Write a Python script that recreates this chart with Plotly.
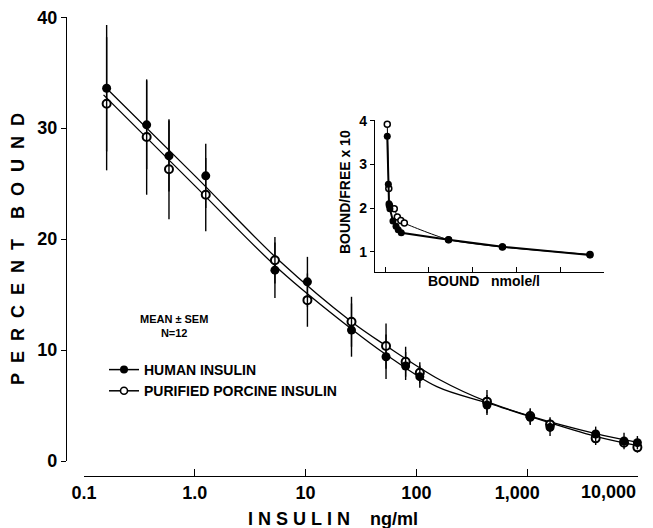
import plotly.graph_objects as go

# ---------------- data ----------------
insulin_ng_ml = [0.16, 0.367, 0.583, 1.25, 5.25, 10.3, 25.7, 52.6, 79, 106,
                 427, 1047, 1580, 4070, 7330, 9670]
human_pct = [33.6, 30.3, 27.5, 25.7, 17.2, 16.15, 11.8, 9.4, 8.56, 7.6,
             5.05, 3.94, 3.03, 2.43, 1.8, 1.65]
human_sem = [5.7, 4.0, 3.2, 2.9, 2.5, 2.25, 2.4, 2.0, 1.26, 1.0,
             0.9, 0.7, 0.78, 0.67, 0.75, 0.6]
porcine_pct = [32.2, 29.2, 26.3, 24.0, 18.1, 14.5, 12.55, 10.36, 8.95, 7.95,
               5.35, 4.05, 3.3, 2.04, 1.65, 1.23]
porcine_sem = [6.0, 5.2, 4.5, 3.3, 2.1, 2.4, 2.25, 2.04, 1.35, 0.95,
               1.05, 0.7, 0.64, 0.6, 0.36, 0.48]

# fitted curves
curve_a_x = [0.152, 1.0, 5.83, 25.7, 52.5, 162, 427, 1047, 3981, 9550]
curve_a_y = [33.8, 25.7, 18.0, 12.55, 10.4, 7.3, 5.35, 4.05, 2.5, 1.7]
curve_b_x = [0.150, 1.0, 5.83, 25.7, 52.5, 151, 427, 1047, 3981, 9550]
curve_b_y = [33.0, 24.8, 17.2, 11.9, 9.6, 6.7, 5.25, 4.0, 2.25, 1.4]

# inset: Scatchard plot (bound vs bound/free x 10)
inset_h_bound = [1.05, 1.075, 1.09, 1.11, 1.18, 1.25, 1.30, 1.37, 2.45, 3.68, 5.68]
inset_h_bf = [3.65, 2.55, 2.1, 1.99, 1.71, 1.59, 1.51, 1.44, 1.28, 1.12, 0.93]
inset_p_bound = [1.05, 1.085, 1.10, 1.21, 1.28, 1.36, 1.44, 2.45, 3.68, 5.68]
inset_p_bf = [3.92, 2.45, 2.06, 1.99, 1.80, 1.72, 1.66, 1.28, 1.11, 0.94]

x_tickvals = [0.1, 1, 10, 100, 1000, 10000]
x_ticktext = ["0.1", "1.0", "10", "100", "1,000" + "\u00a0" * 4, ""]
last_x_label = "10,000"   # drawn right-aligned at its tick, as in the original
y_tickvals = [0, 10, 20, 30, 40]
inset_y_tickvals = [1, 2, 3, 4]
inset_x_tickvals = [1, 2, 3, 4, 5, 6]

FONT = "Liberation Sans"
BLACK = "black"

fig = go.Figure()

# fitted curves
for cx, cy in ((curve_a_x, curve_a_y), (curve_b_x, curve_b_y)):
    fig.add_trace(go.Scatter(x=cx, y=cy, mode="lines",
                             line=dict(color=BLACK, width=1.3, shape="spline", smoothing=1.0),
                             showlegend=False, hoverinfo="skip", xaxis="x", yaxis="y"))

# porcine (open)
fig.add_trace(go.Scatter(x=insulin_ng_ml, y=porcine_pct, mode="markers",
                         marker=dict(symbol="circle", size=8, color="white",
                                     line=dict(color=BLACK, width=2)),
                         error_y=dict(type="data", array=porcine_sem, visible=True,
                                      width=0, thickness=1.4, color=BLACK),
                         showlegend=False, xaxis="x", yaxis="y"))
# human (filled)
fig.add_trace(go.Scatter(x=insulin_ng_ml, y=human_pct, mode="markers",
                         marker=dict(symbol="circle", size=9, color=BLACK),
                         error_y=dict(type="data", array=human_sem, visible=True,
                                      width=0, thickness=1.4, color=BLACK),
                         showlegend=False, xaxis="x", yaxis="y"))

# legend-only entries
fig.add_trace(go.Scatter(x=[None], y=[None], mode="lines+markers", name="HUMAN INSULIN",
                         marker=dict(symbol="circle", size=8, color=BLACK),
                         line=dict(color=BLACK, width=1.5), xaxis="x", yaxis="y"))
fig.add_trace(go.Scatter(x=[None], y=[None], mode="lines+markers",
                         name="PURIFIED PORCINE INSULIN",
                         marker=dict(symbol="circle", size=7, color="white",
                                     line=dict(color=BLACK, width=1.6)),
                         line=dict(color=BLACK, width=1.5), xaxis="x", yaxis="y"))

# empty trace so the detached tick axis (x2 on y4) is drawn
fig.add_trace(go.Scatter(x=[1], y=[None], mode="markers", showlegend=False,
                         hoverinfo="skip", xaxis="x2", yaxis="y4"))

# inset
fig.add_trace(go.Scatter(x=inset_p_bound, y=inset_p_bf, mode="lines+markers",
                         line=dict(color=BLACK, width=1, shape="spline", smoothing=0.6),
                         marker=dict(symbol="circle", size=6, color="white",
                                     line=dict(color=BLACK, width=1.5)),
                         showlegend=False, xaxis="x3", yaxis="y3"))
fig.add_trace(go.Scatter(x=inset_h_bound, y=inset_h_bf, mode="lines+markers",
                         line=dict(color=BLACK, width=2),
                         marker=dict(symbol="circle", size=7, color=BLACK),
                         showlegend=False, xaxis="x3", yaxis="y3"))

# page body adds an 8px offset; figure is laid out in screen coordinates minus that
OFF = 8
W, H = 653 - OFF, 528 - OFF
L, R, T, B = 67 - OFF, 8, 17 - OFF, 52
PW = W - L - R
PH = H - T - B


def px(xs):
    return (xs - OFF - L) / PW


def py(ys):
    return (H - B - (ys - OFF)) / PH


tickfont = dict(family=FONT, size=18, color=BLACK, weight="bold")

fig.update_layout(
    width=W, height=H,
    margin=dict(l=L, r=R, t=T, b=B, autoexpand=False),
    paper_bgcolor="white", plot_bgcolor="rgba(0,0,0,0)",
    font=dict(family=FONT, color=BLACK),
    xaxis=dict(type="log", range=[-1.153, 4.054], visible=False, anchor="y",
               domain=[0, 1], automargin=False),
    xaxis2=dict(type="log", range=[-1.0005, 4.0005], domain=[px(84), px(638)],
                anchor="y4", automargin=False, ticklabeloverflow="allow",
                showline=True, linecolor=BLACK, linewidth=1.3,
                ticks="inside", ticklen=7, tickwidth=1.3, tickcolor=BLACK,
                tickvals=x_tickvals, ticktext=x_ticktext, tickfont=tickfont,
                showgrid=False, zeroline=False),
    yaxis4=dict(domain=[0, py(462)], anchor="x2", visible=False, range=[0, 1],
                automargin=False),
    yaxis=dict(range=[0, 40.02], domain=[py(461), py(17)], anchor="x", automargin=False,
               ticklabeloverflow="allow",
               showline=True, linecolor=BLACK, linewidth=1.3,
               ticks="outside", ticklen=5, tickwidth=1.3, tickcolor=BLACK,
               tickvals=y_tickvals, tickfont=tickfont,
               showgrid=False, zeroline=False),
    xaxis3=dict(range=[0.77, 6.0], domain=[px(375), px(604)], anchor="y3",
                automargin=False,
                showline=True, linecolor=BLACK, linewidth=1.2,
                ticks="inside", ticklen=5, tickwidth=1.2, tickcolor=BLACK,
                tickvals=inset_x_tickvals, showticklabels=False,
                showgrid=False, zeroline=False),
    yaxis3=dict(range=[0.54, 4.02], domain=[py(272), py(120)], anchor="x3",
                automargin=False,
                showline=True, linecolor=BLACK, linewidth=1.2,
                ticks="outside", ticklen=4, tickwidth=1.2, tickcolor=BLACK,
                tickvals=inset_y_tickvals,
                tickfont=dict(family=FONT, size=14, color=BLACK, weight="bold"),
                showgrid=False, zeroline=False),
    legend=dict(x=px(104), y=py(354), xanchor="left", yanchor="top",
                bgcolor="rgba(0,0,0,0)", borderwidth=0,
                font=dict(family=FONT, size=14, color=BLACK, weight="bold"),
                itemwidth=30, tracegroupgap=0),
    showlegend=True,
)

nb = "\u00a0"
ytitle = (nb * 2).join("PERCENT") + nb * 4 + (nb * 2).join("BOUND")
xtitle = nb.join("INSULIN") + nb * 4 + "ng/ml"

fig.add_annotation(text=last_x_label, x=4, xref="x2", y=py(492), yref="paper",
                   showarrow=False, xanchor="right", yanchor="middle",
                   font=tickfont)
fig.add_annotation(text=ytitle, x=px(18), y=py(249), xref="paper", yref="paper",
                   textangle=-90, showarrow=False, xanchor="center", yanchor="middle",
                   font=dict(family=FONT, size=18, color=BLACK, weight="bold"))
fig.add_annotation(text=xtitle, x=px(333), y=py(519), xref="paper", yref="paper",
                   showarrow=False, xanchor="center", yanchor="middle",
                   font=dict(family=FONT, size=18, color=BLACK, weight="bold"))
fig.add_annotation(text="MEAN ± SEM<br>N=12", x=px(174), y=py(326), xref="paper", yref="paper",
                   showarrow=False, xanchor="center", yanchor="middle",
                   font=dict(family=FONT, size=11, color=BLACK, weight="bold"))
fig.add_annotation(text="BOUND/FREE x 10", x=px(345), y=py(192), xref="paper", yref="paper",
                   textangle=-90, showarrow=False, xanchor="center", yanchor="middle",
                   font=dict(family=FONT, size=14, color=BLACK, weight="bold"))
fig.add_annotation(text="BOUND" + nb * 3 + "nmole/l", x=px(484), y=py(281), xref="paper",
                   yref="paper", showarrow=False, xanchor="center", yanchor="middle",
                   font=dict(family=FONT, size=14, color=BLACK, weight="bold"))

fig.write_html("out.html")
